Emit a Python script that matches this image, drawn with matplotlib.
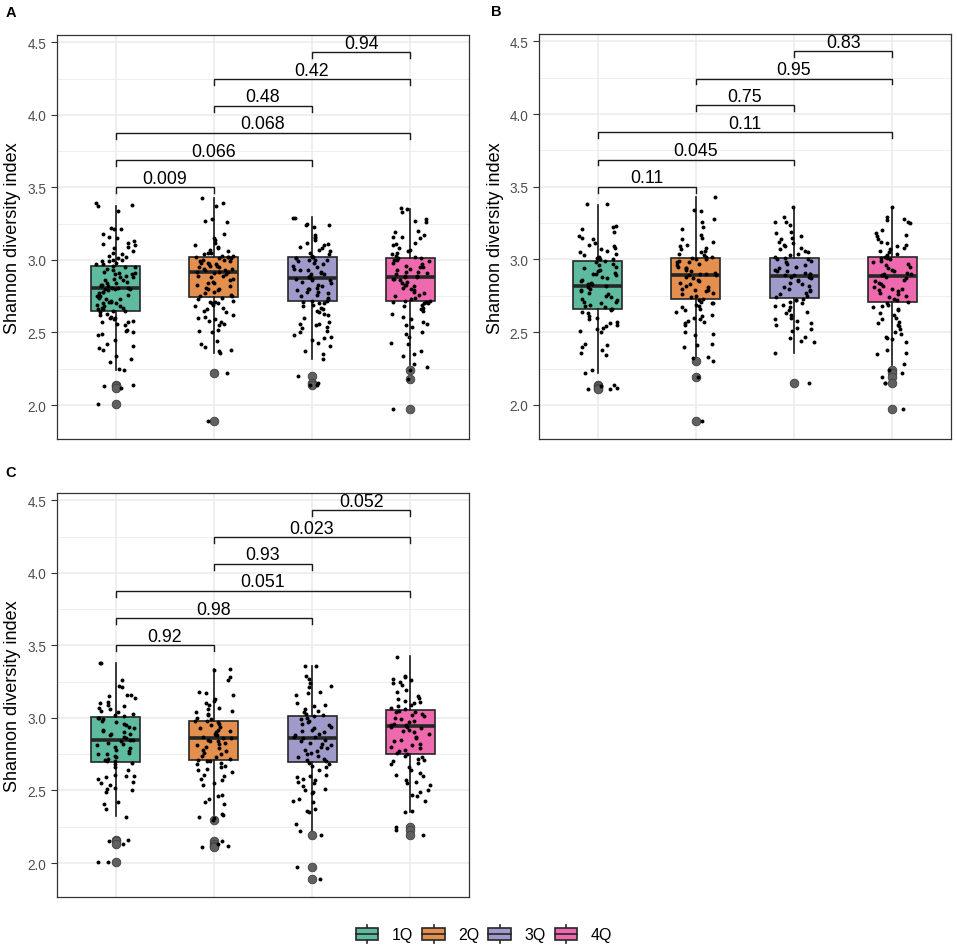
import numpy as np
import matplotlib
matplotlib.use('Agg')
import matplotlib.pyplot as plt
from matplotlib.patches import Rectangle, Patch
from matplotlib.lines import Line2D
from matplotlib.legend_handler import HandlerBase
from matplotlib.ticker import FixedLocator

plt.rcParams['font.family'] = ['Liberation Sans', 'DejaVu Sans']

# ---------------- data ----------------
groups = ['1Q', '2Q', '3Q', '4Q']
colors = ['#5FBBA0', '#E48F4D', '#9E9BCA', '#EE69AD']

comparisons = [(1, 2), (1, 3), (1, 4), (2, 3), (2, 4), (3, 4)]
bracket_y = [3.50, 3.687, 3.874, 4.06, 4.244, 4.43]

A_pvals = ['0.009', '0.066', '0.068', '0.48', '0.42', '0.94']
B_pvals = ['0.11', '0.045', '0.11', '0.75', '0.95', '0.83']
C_pvals = ['0.92', '0.98', '0.051', '0.93', '0.023', '0.052']

# box statistics (per group 1Q..4Q)
A_q1 = [2.650, 2.743, 2.715, 2.715]
A_med = [2.807, 2.915, 2.874, 2.880]
A_q3 = [2.961, 3.023, 3.018, 3.014]
A_lo = [2.243, 2.359, 2.317, 2.276]
A_hi = [3.375, 3.428, 3.294, 3.352]
A_out = [[2.14, 2.13, 2.12, 2.01], [2.22, 1.89], [2.20, 2.15, 2.14], [2.24, 2.18, 1.97]]

B_q1 = [2.657, 2.726, 2.736, 2.708]
B_med = [2.819, 2.892, 2.887, 2.887]
B_q3 = [2.991, 3.011, 3.007, 3.018]
B_lo = [2.221, 2.320, 2.359, 2.276]
B_hi = [3.375, 3.428, 3.363, 3.359]
B_out = [[2.14, 2.13, 2.12, 2.11], [2.30, 2.19, 1.89], [2.15], [2.24, 2.22, 2.19, 2.15, 1.97]]

C_q1 = [2.695, 2.711, 2.695, 2.752]
C_med = [2.849, 2.860, 2.862, 2.943]
C_q3 = [3.005, 2.977, 3.012, 3.057]
C_lo = [2.321, 2.330, 2.222, 2.355]
C_hi = [3.379, 3.337, 3.360, 3.425]
C_out = [[2.16, 2.15, 2.13, 2.01], [2.30, 2.15, 2.13, 2.12, 2.11], [2.19, 1.97, 1.89], [2.25, 2.23, 2.19]]

A_1Q = [3.39, 3.38, 3.37, 3.34, 3.22, 3.21, 3.21, 3.18, 3.16, 3.15, 3.13, 3.12, 3.11, 3.10, 3.09, 3.08, 3.06, 3.05,
        3.04, 3.03, 3.02, 3.01, 3.00, 3.00, 2.99, 2.99, 2.98, 2.97, 2.97, 2.96, 2.95, 2.95, 2.94, 2.93, 2.92, 2.91,
        2.91, 2.90, 2.90, 2.89, 2.88, 2.88, 2.87, 2.86, 2.86, 2.85, 2.84, 2.84, 2.83, 2.83, 2.82, 2.82, 2.81, 2.81,
        2.81, 2.80, 2.80, 2.80, 2.79, 2.78, 2.78, 2.77, 2.76, 2.75, 2.75, 2.74, 2.73, 2.73, 2.72, 2.71, 2.71, 2.70,
        2.70, 2.69, 2.68, 2.68, 2.67, 2.67, 2.66, 2.66, 2.65, 2.65, 2.64, 2.63, 2.62, 2.61, 2.60, 2.60, 2.59, 2.58,
        2.57, 2.57, 2.56, 2.55, 2.52, 2.51, 2.50, 2.49, 2.48, 2.45, 2.42, 2.41, 2.39, 2.38, 2.34, 2.32, 2.30, 2.25,
        2.24, 2.14, 2.13, 2.12, 2.01]
A_2Q = [3.43, 3.39, 3.37, 3.28, 3.27, 3.26, 3.18, 3.15, 3.14, 3.12, 3.10, 3.09, 3.08, 3.07, 3.06, 3.05, 3.05, 3.04,
        3.03, 3.03, 3.02, 3.02, 3.02, 3.01, 3.01, 3.00, 3.00, 2.99, 2.99, 2.98, 2.98, 2.97, 2.97, 2.96, 2.96, 2.95,
        2.95, 2.94, 2.94, 2.93, 2.93, 2.92, 2.92, 2.92, 2.91, 2.90, 2.89, 2.89, 2.88, 2.87, 2.86, 2.85, 2.84, 2.84,
        2.83, 2.82, 2.81, 2.80, 2.80, 2.79, 2.78, 2.77, 2.76, 2.75, 2.75, 2.74, 2.73, 2.72, 2.71, 2.71, 2.70, 2.70,
        2.69, 2.68, 2.67, 2.66, 2.65, 2.64, 2.62, 2.61, 2.60, 2.59, 2.58, 2.57, 2.56, 2.55, 2.52, 2.51, 2.50, 2.44,
        2.42, 2.40, 2.38, 2.37, 2.36, 2.22, 1.89]
A_3Q = [3.29, 3.29, 3.25, 3.24, 3.24, 3.23, 3.17, 3.16, 3.15, 3.14, 3.12, 3.11, 3.10, 3.09, 3.08, 3.07, 3.06, 3.05,
        3.04, 3.03, 3.02, 3.02, 3.01, 3.01, 3.00, 3.00, 3.00, 2.99, 2.98, 2.97, 2.96, 2.95, 2.94, 2.93, 2.93, 2.92,
        2.91, 2.90, 2.90, 2.89, 2.88, 2.88, 2.87, 2.87, 2.86, 2.86, 2.85, 2.84, 2.83, 2.82, 2.81, 2.80, 2.80, 2.79,
        2.78, 2.78, 2.77, 2.76, 2.75, 2.74, 2.73, 2.72, 2.72, 2.71, 2.70, 2.70, 2.69, 2.68, 2.67, 2.66, 2.65, 2.64,
        2.63, 2.62, 2.60, 2.57, 2.56, 2.56, 2.55, 2.54, 2.53, 2.51, 2.50, 2.48, 2.47, 2.46, 2.45, 2.43, 2.41, 2.37,
        2.35, 2.32, 2.20, 2.15, 2.14, 2.14]
A_4Q = [3.36, 3.35, 3.33, 3.28, 3.27, 3.26, 3.20, 3.19, 3.17, 3.16, 3.16, 3.15, 3.12, 3.11, 3.10, 3.08, 3.07, 3.06,
        3.05, 3.04, 3.03, 3.02, 3.01, 3.01, 3.00, 3.00, 2.99, 2.98, 2.97, 2.96, 2.95, 2.95, 2.94, 2.93, 2.92, 2.92,
        2.91, 2.90, 2.89, 2.89, 2.88, 2.88, 2.87, 2.87, 2.86, 2.85, 2.84, 2.83, 2.83, 2.82, 2.81, 2.80, 2.79, 2.78,
        2.77, 2.76, 2.75, 2.74, 2.73, 2.72, 2.72, 2.71, 2.71, 2.70, 2.70, 2.69, 2.68, 2.67, 2.66, 2.65, 2.63, 2.61,
        2.59, 2.57, 2.56, 2.55, 2.54, 2.50, 2.49, 2.47, 2.43, 2.42, 2.37, 2.35, 2.34, 2.28, 2.26, 2.24, 2.18, 1.97]

B_1Q = [3.38, 3.38, 3.23, 3.22, 3.21, 3.19, 3.16, 3.15, 3.14, 3.11, 3.10, 3.09, 3.08, 3.07, 3.06, 3.05, 3.04, 3.03,
        3.02, 3.01, 3.00, 3.00, 2.99, 2.98, 2.97, 2.96, 2.95, 2.94, 2.93, 2.92, 2.91, 2.90, 2.90, 2.89, 2.88, 2.87,
        2.86, 2.85, 2.84, 2.83, 2.83, 2.82, 2.81, 2.80, 2.79, 2.78, 2.77, 2.76, 2.75, 2.74, 2.73, 2.72, 2.71, 2.71,
        2.70, 2.69, 2.68, 2.67, 2.66, 2.66, 2.65, 2.64, 2.63, 2.61, 2.60, 2.59, 2.57, 2.56, 2.55, 2.54, 2.53, 2.52,
        2.51, 2.50, 2.42, 2.41, 2.40, 2.38, 2.36, 2.34, 2.24, 2.22, 2.14, 2.13, 2.12, 2.11, 2.11]
B_2Q = [3.43, 3.34, 3.33, 3.28, 3.26, 3.22, 3.21, 3.17, 3.15, 3.14, 3.12, 3.10, 3.09, 3.08, 3.07, 3.06, 3.05, 3.04,
        3.03, 3.02, 3.02, 3.01, 3.00, 3.00, 2.99, 2.98, 2.98, 2.97, 2.96, 2.95, 2.94, 2.94, 2.93, 2.92, 2.91, 2.90,
        2.90, 2.89, 2.89, 2.88, 2.87, 2.86, 2.85, 2.84, 2.83, 2.82, 2.81, 2.80, 2.79, 2.79, 2.78, 2.77, 2.76, 2.75,
        2.74, 2.73, 2.72, 2.71, 2.70, 2.70, 2.69, 2.68, 2.67, 2.66, 2.65, 2.64, 2.62, 2.61, 2.60, 2.59, 2.58, 2.57,
        2.56, 2.55, 2.50, 2.49, 2.48, 2.42, 2.41, 2.40, 2.33, 2.32, 2.30, 2.19, 1.89]
B_3Q = [3.36, 3.29, 3.26, 3.26, 3.24, 3.19, 3.18, 3.16, 3.15, 3.14, 3.12, 3.11, 3.10, 3.09, 3.08, 3.07, 3.06, 3.05,
        3.04, 3.03, 3.02, 3.01, 3.00, 3.00, 2.99, 2.98, 2.97, 2.96, 2.95, 2.94, 2.93, 2.92, 2.92, 2.91, 2.90, 2.90,
        2.89, 2.89, 2.88, 2.88, 2.87, 2.86, 2.85, 2.84, 2.83, 2.82, 2.81, 2.80, 2.79, 2.78, 2.77, 2.76, 2.75, 2.74,
        2.73, 2.72, 2.72, 2.71, 2.70, 2.69, 2.68, 2.67, 2.65, 2.64, 2.63, 2.62, 2.60, 2.59, 2.58, 2.56, 2.55, 2.53,
        2.52, 2.51, 2.47, 2.46, 2.44, 2.43, 2.36, 2.15]
B_4Q = [3.36, 3.29, 3.28, 3.27, 3.26, 3.25, 3.20, 3.18, 3.17, 3.16, 3.14, 3.12, 3.11, 3.10, 3.09, 3.08, 3.07, 3.06,
        3.05, 3.04, 3.03, 3.02, 3.01, 3.01, 3.00, 2.99, 2.98, 2.97, 2.96, 2.95, 2.94, 2.93, 2.92, 2.91, 2.90, 2.90,
        2.89, 2.89, 2.88, 2.87, 2.86, 2.85, 2.84, 2.83, 2.82, 2.81, 2.80, 2.80, 2.79, 2.78, 2.77, 2.76, 2.75, 2.74,
        2.73, 2.72, 2.71, 2.70, 2.69, 2.68, 2.67, 2.66, 2.65, 2.63, 2.62, 2.60, 2.59, 2.57, 2.56, 2.55, 2.54, 2.52,
        2.50, 2.49, 2.47, 2.46, 2.45, 2.43, 2.38, 2.36, 2.35, 2.28, 2.24, 2.22, 2.19, 2.15, 2.15, 1.97]

C_1Q = [3.38, 3.38, 3.26, 3.22, 3.21, 3.16, 3.16, 3.15, 3.14, 3.11, 3.10, 3.09, 3.08, 3.07, 3.06, 3.05, 3.04, 3.03,
        3.02, 3.01, 3.00, 3.00, 2.99, 2.98, 2.97, 2.96, 2.95, 2.94, 2.93, 2.92, 2.91, 2.90, 2.89, 2.89, 2.88, 2.87,
        2.86, 2.85, 2.85, 2.84, 2.83, 2.82, 2.81, 2.80, 2.79, 2.78, 2.77, 2.76, 2.75, 2.75, 2.74, 2.73, 2.72, 2.71,
        2.70, 2.70, 2.69, 2.68, 2.66, 2.64, 2.61, 2.60, 2.60, 2.59, 2.58, 2.56, 2.55, 2.54, 2.52, 2.51, 2.50, 2.49,
        2.42, 2.41, 2.37, 2.32, 2.16, 2.15, 2.13, 2.01, 2.01]
C_2Q = [3.34, 3.33, 3.28, 3.26, 3.18, 3.17, 3.16, 3.13, 3.12, 3.10, 3.09, 3.07, 3.06, 3.05, 3.04, 3.03, 3.02, 3.00,
        2.99, 2.98, 2.98, 2.97, 2.96, 2.95, 2.94, 2.93, 2.92, 2.91, 2.90, 2.89, 2.88, 2.88, 2.87, 2.86, 2.86, 2.85,
        2.84, 2.84, 2.83, 2.82, 2.81, 2.80, 2.79, 2.78, 2.77, 2.76, 2.75, 2.74, 2.73, 2.72, 2.71, 2.70, 2.70, 2.69,
        2.68, 2.67, 2.66, 2.65, 2.64, 2.63, 2.61, 2.60, 2.58, 2.57, 2.55, 2.54, 2.47, 2.46, 2.44, 2.42, 2.41, 2.34,
        2.33, 2.32, 2.31, 2.30, 2.15, 2.13, 2.12, 2.11]
C_3Q = [3.36, 3.36, 3.29, 3.27, 3.24, 3.22, 3.21, 3.18, 3.17, 3.16, 3.10, 3.09, 3.08, 3.06, 3.05, 3.04, 3.03, 3.02,
        3.01, 3.00, 2.99, 2.98, 2.97, 2.96, 2.95, 2.94, 2.93, 2.92, 2.91, 2.90, 2.89, 2.88, 2.87, 2.87, 2.86, 2.85,
        2.84, 2.83, 2.82, 2.81, 2.80, 2.79, 2.78, 2.77, 2.76, 2.75, 2.74, 2.73, 2.72, 2.71, 2.70, 2.69, 2.68, 2.67,
        2.66, 2.64, 2.61, 2.60, 2.59, 2.58, 2.57, 2.56, 2.55, 2.53, 2.51, 2.50, 2.49, 2.48, 2.44, 2.43, 2.42, 2.37,
        2.36, 2.35, 2.27, 2.22, 2.19, 1.97, 1.89]
C_4Q = [3.42, 3.29, 3.28, 3.27, 3.26, 3.25, 3.24, 3.23, 3.19, 3.18, 3.15, 3.14, 3.13, 3.12, 3.11, 3.10, 3.09, 3.08,
        3.07, 3.06, 3.05, 3.04, 3.04, 3.03, 3.02, 3.01, 3.00, 2.99, 2.98, 2.97, 2.96, 2.95, 2.95, 2.94, 2.94, 2.93,
        2.92, 2.91, 2.90, 2.89, 2.87, 2.86, 2.85, 2.84, 2.82, 2.81, 2.80, 2.79, 2.78, 2.77, 2.76, 2.75, 2.74, 2.73,
        2.72, 2.71, 2.70, 2.69, 2.68, 2.66, 2.64, 2.62, 2.61, 2.60, 2.57, 2.56, 2.55, 2.54, 2.50, 2.49, 2.47, 2.46,
        2.43, 2.36, 2.35, 2.25, 2.23, 2.19]

# ---------------- figure ----------------
W, H = 957, 953
fig = plt.figure(figsize=(W / 100, H / 100), dpi=100)


def px_axes(left, top, right, bottom):
    return fig.add_axes([left / W, 1 - bottom / H, (right - left) / W, (bottom - top) / H])


def jitter_offsets(n, g, p):
    # deterministic hash-based spread in [-0.2, 0.2] (position only, not data)
    k = np.arange(n, dtype=float)
    h = np.sin(k * 12.9898 + g * 78.233 + p * 37.719) * 43758.5453
    return (h - np.floor(h) - 0.5) * 0.4


def draw_panel(ax, pidx, points, q1, med, q3, lo, hi, outl, pvals):
    stats = []
    for i in range(4):
        stats.append(dict(med=med[i], q1=q1[i], q3=q3[i], whislo=lo[i], whishi=hi[i], fliers=outl[i]))
    bp = ax.bxp(stats, positions=[1, 2, 3, 4], widths=0.5, patch_artist=True, showcaps=False,
                showfliers=True,
                boxprops=dict(edgecolor='#262626', linewidth=1.2),
                whiskerprops=dict(color='#1a1a1a', linewidth=1.2),
                medianprops=dict(color='#262626', linewidth=2.6, solid_capstyle='butt'),
                flierprops=dict(marker='o', markerfacecolor='#606060', markeredgecolor='#404040',
                                markersize=6.2, markeredgewidth=0.6, linestyle='none'),
                zorder=3)
    for patch, c in zip(bp['boxes'], colors):
        patch.set_facecolor(c)
    for i, vals in enumerate(points):
        offs = jitter_offsets(len(vals), i, pidx)
        ax.scatter(i + 1 + offs, vals, s=8, c='black', linewidths=0, zorder=5)
    tip = 0.04
    for (a, b), y, lab in zip(comparisons, bracket_y, pvals):
        ax.plot([a, a, b, b], [y - tip, y, y, y - tip], color='#1a1a1a', lw=1.0, zorder=6,
                solid_joinstyle='miter')
        ax.text((a + b) / 2, y + 0.005, lab, ha='center', va='bottom', fontsize=12.8, color='black', zorder=6)

    ax.set_xlim(0.4, 4.6)
    ax.set_ylim(1.766, 4.55)
    ax.yaxis.set_major_locator(FixedLocator([2.0, 2.5, 3.0, 3.5, 4.0, 4.5]))
    ax.yaxis.set_minor_locator(FixedLocator([2.25, 2.75, 3.25, 3.75, 4.25]))
    ax.set_yticklabels(['2.0', '2.5', '3.0', '3.5', '4.0', '4.5'])
    ax.set_xticks([1, 2, 3, 4])
    ax.set_xticklabels([])
    ax.tick_params(axis='x', length=0)
    ax.tick_params(axis='y', which='major', length=4.2, width=0.8, color='#333333', labelsize=9.8,
                   labelcolor='#4D4D4D', pad=3.5)
    ax.tick_params(axis='y', which='minor', length=0)
    ax.grid(True, which='major', color='#EBEBEB', lw=1.1, zorder=0)
    ax.grid(True, which='minor', axis='y', color='#EBEBEB', lw=0.6, zorder=0)
    ax.set_axisbelow(True)
    for s in ax.spines.values():
        s.set_color('#333333')
        s.set_linewidth(0.9)


axA = px_axes(57, 36, 469, 440)
axB = px_axes(539, 35, 951, 440)
axC = px_axes(57, 494, 469, 898)

draw_panel(axA, 0, [A_1Q, A_2Q, A_3Q, A_4Q], A_q1, A_med, A_q3, A_lo, A_hi, A_out, A_pvals)
draw_panel(axB, 1, [B_1Q, B_2Q, B_3Q, B_4Q], B_q1, B_med, B_q3, B_lo, B_hi, B_out, B_pvals)
draw_panel(axC, 2, [C_1Q, C_2Q, C_3Q, C_4Q], C_q1, C_med, C_q3, C_lo, C_hi, C_out, C_pvals)

# y labels
for xc, yc in [(13, 238), (495, 238), (13, 696)]:
    fig.text(xc / W, 1 - yc / H, 'Shannon diversity index', rotation=90, ha='center', va='center',
             fontsize=13, color='black')

# panel tags
for xc, yc, t in [(11, 13, 'A'), (496, 12, 'B'), (11, 473, 'C')]:
    fig.text(xc / W, 1 - yc / H, t, ha='center', va='center', fontsize=10.5, fontweight='bold')


# legend with boxplot-style keys
class HandlerBox(HandlerBase):
    def create_artists(self, legend, orig_handle, xdescent, ydescent, width, height, fontsize, trans):
        fc = orig_handle.get_facecolor()
        x0, y0 = -xdescent, -ydescent
        arts = []
        cx = x0 + width / 2
        arts.append(Line2D([cx, cx], [y0 + 0.1 * height, y0 + 0.25 * height], color='#262626', lw=1.2))
        arts.append(Line2D([cx, cx], [y0 + 0.75 * height, y0 + 0.9 * height], color='#262626', lw=1.2))
        arts.append(Rectangle((x0 + 0.125 * width, y0 + 0.25 * height), 0.75 * width, 0.5 * height,
                              facecolor=fc, edgecolor='#262626', lw=1.2))
        arts.append(Line2D([x0 + 0.125 * width, x0 + 0.875 * width], [y0 + 0.5 * height] * 2,
                           color='#262626', lw=1.2))
        for a in arts:
            a.set_transform(trans)
        return arts


handles = [Patch(facecolor=c, label=g) for c, g in zip(colors, groups)]
fig.legend(handles=handles, handler_map={Patch: HandlerBox()}, loc='center',
           bbox_to_anchor=(482 / W, 1 - 935 / H), ncol=4, frameon=False, fontsize=11.5,
           handlelength=1.88, handleheight=1.88, handletextpad=0.59, columnspacing=0.35,
           borderpad=0, borderaxespad=0)

fig.savefig('out.png', dpi=100)
